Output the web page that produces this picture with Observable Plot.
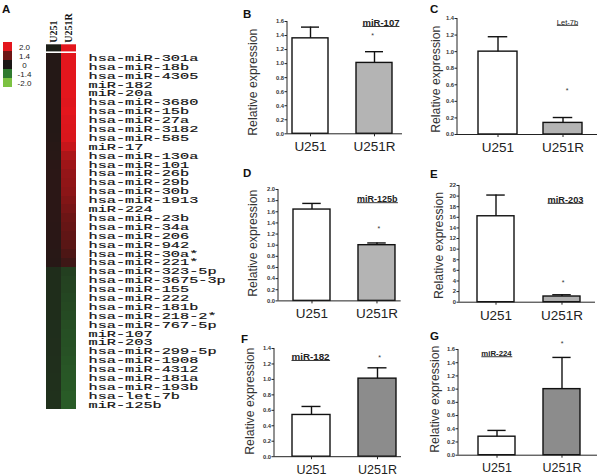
<!DOCTYPE html>
<html><head><meta charset="utf-8">
<script src="https://cdn.jsdelivr.net/npm/d3@7"></script>
<script src="https://cdn.jsdelivr.net/npm/@observablehq/plot@0.6"></script>
<style>
body{margin:0;background:#fff;}
#fig{position:relative;width:600px;height:476px;overflow:hidden;background:#fff;}
#fig svg{position:absolute;overflow:visible;}
.lett{position:absolute;font:bold 11.5px "Liberation Sans",Arial,sans-serif;color:#111;line-height:1;}
</style></head><body><div id="fig"></div>
<script>
// ---------- Panel A: heatmap data ----------
const mirnaLabels = ["hsa-miR-301a","hsa-miR-18b","hsa-miR-4305","miR-182","miR-20a","hsa-miR-3680","hsa-miR-15b","hsa-miR-27a","hsa-miR-3182","hsa-miR-585","miR-17","hsa-miR-130a","hsa-miR-101","hsa-miR-26b","hsa-miR-29b","hsa-miR-30b","hsa-miR-1913","miR-224","hsa-miR-23b","hsa-miR-34a","hsa-miR-206","hsa-miR-942","hsa-miR-30a*","hsa-miR-221*","hsa-miR-323-5p","hsa-miR-3675-3p","hsa-miR-155","hsa-miR-222","hsa-miR-181b","hsa-miR-218-2*","hsa-miR-767-5p","miR-107","miR-203","hsa-miR-299-5p","hsa-miR-1908","hsa-miR-4312","hsa-miR-181a","hsa-miR-193b","hsa-let-7b","miR-125b"];
const u251Values = [0.15,0.15,0.15,0.15,0.15,0.15,0.15,0.16,0.16,0.17,0.2,0.22,0.25,0.27,0.28,0.28,0.28,0.27,0.27,0.26,0.25,0.24,0.22,0.2,-0.3,-0.3,-0.3,-0.3,-0.3,-0.3,-0.31,-0.31,-0.32,-0.32,-0.33,-0.33,-0.34,-0.34,-0.35,-0.35];
const u251rValues = [2.0,2.0,2.0,2.0,2.0,1.98,2.0,1.97,1.96,1.95,1.85,1.72,1.65,1.6,1.58,1.55,1.5,1.45,1.38,1.28,1.18,1.05,0.85,0.6,-0.55,-0.6,-0.62,-0.65,-0.68,-0.72,-0.75,-0.78,-0.8,-0.82,-0.85,-0.88,-0.9,-0.92,-0.95,-0.95];
const headerValues = [-0.1, 2.0];
const legendValues = [2.0, 1.4, 0, -1.4, -2.0];
const legendLabels = ["2.0","1.4","0","-1.4","-2.0"];

// ---------- Panels B-G: bar data ----------
const groups = ["U251","U251R"];
const panelNames = ["B","C","D","E","F","G"];
const panelTitles = ["miR-107","Let-7b","miR-125b","miR-203","miR-182","miR-224"];
const meanU251 = [1.36, 1.00, 1.64, 16.2, 0.54, 0.28];
const meanU251R = [1.01, 0.14, 1.00, 1.07, 1.01, 1.00];
const errU251 = [0.16, 0.18, 0.11, 4.0, 0.11, 0.095];
const errU251R = [0.16, 0.065, 0.04, 0.33, 0.14, 0.48];
const yMax = [1.6, 1.4, 2.0, 22, 1.4, 1.6];
const yStep = [0.2, 0.2, 0.2, 2, 0.2, 0.2];
const starY = [1.40, 0.53, 1.29, 3.7, 1.28, 1.69];
const yTitle = "Relative expression";

// ---------- layout (pixels) ----------
const layouts = {
  B:{L:287,R:402,top:21,bottom:133.3,c1:310,c2:374,w:36,tx:252.5,ty:81.7,hx:380.5,hy:22.5,hs:9.5,hw:"bold",sdx:-2,gray:"#b4b4b4",lx:243,ly:8.5,xs:13.5},
  C:{L:457,R:597,top:18.3,bottom:134.3,c1:497,c2:562,w:39,tx:436,ty:79,hx:567,hy:22,hs:7.5,hw:"normal",sdx:4,gray:"#b4b4b4",lx:430,ly:3.5,xs:13.5},
  D:{L:278.3,R:401,top:189.3,bottom:300.7,c1:311.5,c2:376.5,w:37,tx:253,ty:243,hx:377,hy:199,hs:9,hw:"bold",sdx:2,gray:"#b4b4b4",lx:243,ly:167.5,xs:13.5},
  E:{L:459,R:595,top:185,bottom:301.7,c1:495.5,c2:562,w:37,tx:439,ty:245,hx:565,hy:199.3,hs:9.2,hw:"bold",sdx:1,gray:"#b0b0b0",lx:430,ly:168.5,xs:13.5},
  F:{L:274,R:401,top:348.3,bottom:456.5,c1:310.5,c2:376.5,w:38,tx:250,ty:401,hx:310,hy:356.7,hs:9.8,hw:"bold",sdx:2,gray:"#8c8c8c",lx:241,ly:333.5,xs:12.5},
  G:{L:458,R:597,top:349.3,bottom:455,c1:496,c2:561.5,w:37.5,tx:435,ty:399,hx:496,hy:353.3,hs:7.8,hw:"bold",sdx:0,gray:"#8c8c8c",lx:430,ly:330.5,xs:12.5}
};

const fig = document.getElementById("fig");
const sans = '"Liberation Sans", Arial, sans-serif';
const colorScale = {type:"linear", domain:[-2,-1.4,0,1.4,2], range:["#7cc242","#2f7a2f","#1b1816","#6d1515","#e3161d"], clamp:true};

function place(el, left, top) {
  el.style.position = "absolute";
  el.style.left = left + "px";
  el.style.top = top + "px";
  fig.appendChild(el);
}

function letter(t, x, y) {
  const d = document.createElement("div");
  d.className = "lett"; d.textContent = t;
  d.style.left = x + "px"; d.style.top = y + "px";
  fig.appendChild(d);
}

// y-axis line drawn at the frame's left edge
const yAxisLine = (index, scales, values, dims) => {
  const l = document.createElementNS("http://www.w3.org/2000/svg", "line");
  l.setAttribute("x1", dims.marginLeft); l.setAttribute("x2", dims.marginLeft);
  l.setAttribute("y1", dims.marginTop); l.setAttribute("y2", dims.height - dims.marginBottom);
  l.setAttribute("stroke", "#222"); l.setAttribute("stroke-width", 1);
  return l;
};

// underline the panel-title text (after the svg is in the DOM)
function underline(svg, title) {
  svg.querySelectorAll("text").forEach(t => {
    if (t.textContent !== title) return;
    const b = t.getBBox();
    const l = document.createElementNS("http://www.w3.org/2000/svg", "line");
    const yy = b.y + b.height * 0.86;
    l.setAttribute("x1", b.x); l.setAttribute("x2", b.x + b.width);
    l.setAttribute("y1", yy); l.setAttribute("y2", yy);
    l.setAttribute("stroke", "#222"); l.setAttribute("stroke-width", 0.9);
    const tr = t.getAttribute("transform");
    if (tr) l.setAttribute("transform", tr);
    t.parentNode.insertBefore(l, t.nextSibling);
  });
}

// ---------- heatmap ----------
{
  const rows = ["__hdr", ...mirnaLabels];
  const hdrCells = groups.map((g, k) => ({row:"__hdr", group:g, v:headerValues[k]}));
  const cells = [];
  groups.forEach((g, k) => mirnaLabels.forEach((m, j) => cells.push({row:m, group:g, v:(k ? u251rValues : u251Values)[j]})));
  const W = 240, H = 416, L = 45, R = 76, T = 44.3, B = 409;
  const heat = Plot.plot({
    width: W, height: H, marginLeft: L, marginRight: W - R, marginTop: T, marginBottom: H - B,
    style: {background:"transparent", overflow:"visible", fontFamily: sans},
    x: {domain: groups, padding: 0, label: null},
    y: {domain: rows, padding: 0, label: null},
    color: colorScale,
    marks: [
      Plot.cell(hdrCells, {x:"group", y:"row", fill:"v", insetBottom:1.8}),
      Plot.cell(cells, {x:"group", y:"row", fill:"v", shapeRendering:"crispEdges"}),
      Plot.axisX({anchor:"top", tickRotate:-90, tickSize:0, tickPadding:2, fontSize:10, fontWeight:"bold", fontFamily:'"Liberation Serif", serif', fill:"#111", label:null}),
      Plot.axisY({anchor:"right", tickSize:0, tickPadding:12, tickFormat: d => d === "__hdr" ? "" : d, fontSize:8.4, fontFamily:'"Liberation Mono", monospace', fill:"#111", label:null})
    ]
  });
  heat.querySelectorAll('g[aria-label="y-axis tick label"] text').forEach(t => {
    const s = t.textContent;
    if (s) { t.setAttribute("textLength", s.length * 9.15); t.setAttribute("lengthAdjust", "spacingAndGlyphs"); t.setAttribute("stroke", "#111"); t.setAttribute("stroke-width", 0.15); }
  });
  place(heat, 0, 0);

  const legRows = legendValues.map((v, i) => ({v, lab: legendLabels[i]}));
  const LW = 40, LH = 92;
  const leg = Plot.plot({
    width: LW, height: LH, marginLeft: 3.3, marginRight: LW - 12.7, marginTop: 42, marginBottom: LH - 87,
    style: {background:"transparent", overflow:"visible", fontFamily: sans},
    x: {domain: ["key"], padding: 0, axis: null},
    y: {domain: legendLabels, padding: 0, axis: null},
    color: colorScale,
    marks: [
      Plot.cell(legRows, {x: () => "key", y:"lab", fill:"v"}),
      Plot.text(legRows, {y:"lab", text:"lab", frameAnchor:"right", dx:11.3, textAnchor:"middle", fontSize:8, fill:"#222"})
    ]
  });
  place(leg, 0, 0);
  letter("A", 2, 3.5);
}

// ---------- bar panels ----------
panelNames.forEach((name, i) => {
  const lay = layouts[name];
  const ML = 50, MR = 6, MT = 14, MB = 28;
  const fw = lay.R - lay.L;
  const width = fw + ML + MR;
  const height = (lay.bottom - lay.top) + MT + MB;
  const s = lay.c2 - lay.c1;
  const pi = 1 - lay.w / s;
  const po = (fw / s - 2 + pi) / 2;
  const align = (lay.c1 - lay.w / 2 - lay.L) / (s * 2 * po);
  const rows = groups.map((g, k) => ({group:g, mean: k ? meanU251R[i] : meanU251[i], err: k ? errU251R[i] : errU251[i]}));
  const ticks = d3.range(0, yMax[i] + yStep[i] / 2, yStep[i]);
  const fmt = yStep[i] >= 1 ? d3.format("d") : d3.format(".1f");
  const plot = Plot.plot({
    width, height, marginLeft: ML, marginRight: MR, marginTop: MT, marginBottom: MB,
    style: {background:"transparent", overflow:"visible", fontFamily: sans, color:"#222"},
    x: {domain: groups, paddingInner: pi, paddingOuter: po, align, label: null},
    y: {domain: [0, yMax[i]], label: null},
    marks: [
      Plot.barY(rows.filter(d => d.group === "U251"), {x:"group", y:"mean", fill:"white", stroke:"#111", strokeWidth:1.4}),
      Plot.barY(rows.filter(d => d.group === "U251R"), {x:"group", y:"mean", fill:lay.gray, stroke:"#111", strokeWidth:1.4}),
      Plot.ruleX(rows, {x:"group", y1:"mean", y2: d => d.mean + d.err, stroke:"#111", strokeWidth:1.4}),
      Plot.tickY(rows, {x:"group", y: d => d.mean + d.err, stroke:"#111", strokeWidth:1.4, insetLeft: lay.w / 4, insetRight: lay.w / 4}),
      Plot.ruleY([0], {stroke:"#222", strokeWidth:1}),
      yAxisLine,
      Plot.axisY(ticks, {tickSize:2.5, tickPadding:1, tickFormat: fmt, fontSize:5.8, fontWeight:"bold", fill:"#333", label:null}),
      Plot.axisX({tickSize:3, tickPadding:5, fontSize: lay.xs, fill:"#222", label:null}),
      Plot.text([yTitle], {frameAnchor:"left", textAnchor:"middle", lineAnchor:"middle", rotate:-90, dx: lay.tx - lay.L, dy: lay.ty - (lay.top + lay.bottom) / 2, fontSize:12.3, fill:"#333"}),
      Plot.text([panelTitles[i]], {frameAnchor:"top-left", textAnchor:"middle", lineAnchor:"middle", dx: lay.hx - lay.L, dy: lay.hy - lay.top, fontSize: lay.hs, fontWeight: lay.hw, fill:"#222"}),
      Plot.text(["*"], {x: () => "U251R", y: () => starY[i], dx: lay.sdx, fontSize:7, fill:"#333"})
    ]
  });
  place(plot, lay.L - ML, lay.top - MT);
  underline(plot, panelTitles[i]);
  letter(name, lay.lx, lay.ly);
});
</script></body></html>
